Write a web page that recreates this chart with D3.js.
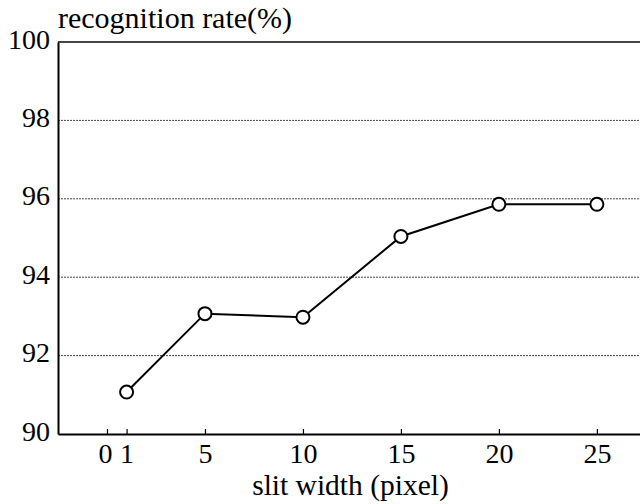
<!DOCTYPE html>
<html>
<head>
<meta charset="utf-8">
<script src="https://cdn.jsdelivr.net/npm/d3@7"></script>
<style>
body { margin: 0; background: #fff; }
</style>
</head>
<body>
<div id="chart"></div>
<script>
// data
var slitWidth = [1, 5, 10, 15, 20, 25];
var recogRate = [91.07, 93.07, 92.98, 95.04, 95.86, 95.86];
var xTicks = [0, 1, 5, 10, 15, 20, 25];
var yTicks = [90, 92, 94, 96, 98, 100];
var gridTicks = [92, 94, 96, 98];

var FONT = "'Liberation Serif'";

var W = 640, H = 504;
var margin = {top: 42, right: 0, bottom: 70, left: 58};
var width = W - margin.left - margin.right,
    height = H - margin.top - margin.bottom;

var svg = d3.select("#chart").append("svg")
    .attr("width", W)
    .attr("height", H)
    .style("font-family", FONT);

var g = svg.append("g")
    .attr("transform", "translate(" + margin.left + "," + margin.top + ")");

var xScale = d3.scaleLinear()
    .domain([-2.5, 27.2]) // slit width
    .range([0, width]);
var yScale = d3.scaleLinear()
    .domain([90, 100])
    .range([height, 0]);

// dotted grid lines
g.selectAll(".grid").data(gridTicks).enter().append("line")
    .attr("class", "grid")
    .attr("x1", 0).attr("x2", width)
    .attr("y1", function(d){ return yScale(d); })
    .attr("y2", function(d){ return yScale(d); })
    .attr("stroke", "#444")
    .attr("stroke-width", 1)
    .attr("stroke-dasharray", "2,1");

// top frame line
g.append("line")
    .attr("x1", 0).attr("x2", width)
    .attr("y1", 0).attr("y2", 0)
    .attr("stroke", "#444").attr("stroke-width", 2);

// x axis (ticks pointing inward)
var xAxis = g.append("g")
    .attr("transform", "translate(0," + height + ")")
    .call(d3.axisBottom(xScale).tickValues(xTicks).tickSizeInner(-5).tickSizeOuter(0).tickPadding(9));
xAxis.attr("font-family", null).attr("font-size", null);
xAxis.select(".domain").attr("stroke", "#000").attr("stroke-width", 2);
xAxis.selectAll(".tick line").attr("stroke", "#000").attr("stroke-width", 1.2);
xAxis.selectAll(".tick text")
    .style("font-family", FONT)
    .style("font-size", "28px")
    .attr("dy", "0.71em")
    .attr("dx", function(d){ return d == 0 ? -2 : 0; });

// y axis
var yAxis = g.append("g")
    .call(d3.axisLeft(yScale).tickValues(yTicks).tickSize(0).tickPadding(8));
yAxis.attr("font-family", null).attr("font-size", null);
yAxis.select(".domain").attr("stroke", "#000").attr("stroke-width", 2);
yAxis.selectAll(".tick text")
    .style("font-family", FONT)
    .style("font-size", "28px")
    .attr("dy", "0.22em");

// line
var lineGen = d3.line()
    .x(function(d, i){ return xScale(slitWidth[i]); })
    .y(function(d){ return yScale(d); });

g.append("path")
    .datum(recogRate)
    .attr("d", lineGen)
    .attr("fill", "none")
    .attr("stroke", "#000")
    .attr("stroke-width", 2);

g.selectAll(".pt").data(recogRate).enter().append("circle")
    .attr("class", "pt")
    .attr("cx", function(d, i){ return xScale(slitWidth[i]); })
    .attr("cy", function(d){ return yScale(d); })
    .attr("r", 6.5)
    .attr("fill", "#fff")
    .attr("stroke", "#000")
    .attr("stroke-width", 2);

// titles
svg.append("text")
    .attr("x", 58).attr("y", 28)
    .style("font-family", FONT)
    .style("font-size", "30px")
    .text("recognition rate(%)");

svg.append("text")
    .attr("x", 350.5).attr("y", 495)
    .attr("text-anchor", "middle")
    .style("font-family", FONT)
    .style("font-size", "29.5px")
    .text("slit width (pixel)");
</script>
</body>
</html>
